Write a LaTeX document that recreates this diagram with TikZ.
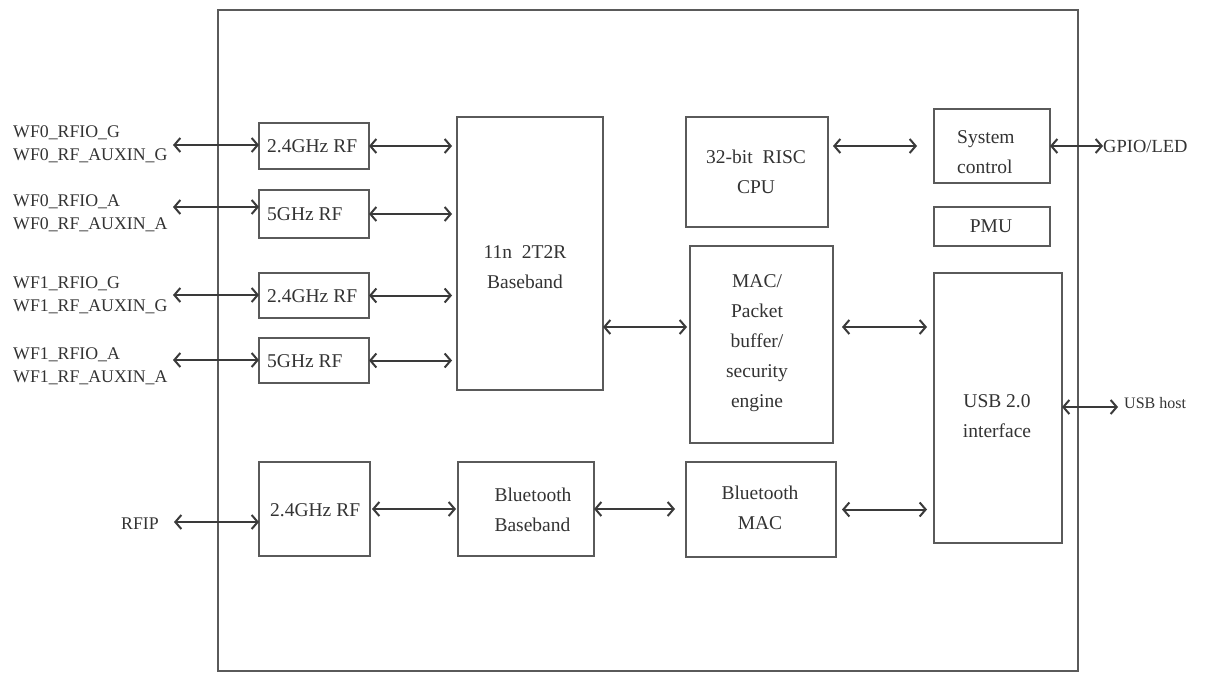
\documentclass[tikz,border=0pt]{standalone}
\usepackage{fontspec}
\setmainfont{Liberation Serif}
\usetikzlibrary{arrows.meta}
\definecolor{boxc}{HTML}{5A5A5A}
\definecolor{arrc}{HTML}{3A3A3A}
\definecolor{txtc}{HTML}{333333}
\begin{document}
\begin{tikzpicture}[x=1pt,y=-1pt,
  blk/.style={draw=boxc, line width=2.2pt, inner sep=0pt, outer sep=0pt, anchor=north west},
  arr/.style={draw=arrc, line width=2pt, {Straight Barb[length=6pt,width=14pt]}-{Straight Barb[length=6pt,width=14pt]}},
  btxt/.style={text=txtc, inner sep=0pt, align=center, font=\fontsize{19.5}{30}\selectfont},
  ltxt/.style={text=txtc, inner sep=0pt, align=left, font=\fontsize{17.8}{23}\selectfont}]
\useasboundingbox[fill=white] (0,0) rectangle (1209,680);
% outer chip border
\draw[draw=boxc, line width=2pt] (218,10) rectangle (1078,671);
% blocks
\node[blk, minimum width=110pt, minimum height=46pt] (rf1) at (259,123) {};
\node[blk, minimum width=110pt, minimum height=48pt] (rf2) at (259,190) {};
\node[blk, minimum width=110pt, minimum height=45pt] (rf3) at (259,273) {};
\node[blk, minimum width=110pt, minimum height=45pt] (rf4) at (259,338) {};
\node[blk, minimum width=146pt, minimum height=273pt] (bb) at (457,117) {};
\node[blk, minimum width=142pt, minimum height=110pt] (cpu) at (686,117) {};
\node[blk, minimum width=116pt, minimum height=74pt] (sys) at (934,109) {};
\node[blk, minimum width=116pt, minimum height=39pt] (pmu) at (934,207) {};
\node[blk, minimum width=143pt, minimum height=197pt] (mac) at (690,246) {};
\node[blk, minimum width=128pt, minimum height=270pt] (usb) at (934,273) {};
\node[blk, minimum width=111pt, minimum height=94pt] (btrf) at (259,462) {};
\node[blk, minimum width=136pt, minimum height=94pt] (btbb) at (458,462) {};
\node[blk, minimum width=150pt, minimum height=95pt] (btmac) at (686,462) {};
% block texts
\node[btxt, anchor=west] at (267,146) {2.4GHz RF};
\node[btxt, anchor=west] at (267,214) {5GHz RF};
\node[btxt, anchor=west] at (267,296) {2.4GHz RF};
\node[btxt, anchor=west] at (267,361) {5GHz RF};
\node[btxt] at (525,267) {11n\ \ 2T2R\\Baseband};
\node[btxt] at (756,172) {32-bit\ \ RISC\\CPU};
\node[btxt, align=left, anchor=west] at (957,152) {System\\control};
\node[btxt] at (991,226) {PMU};
\node[btxt] at (757,343) {MAC/\\Packet\\buffer/\\security\\engine};
\node[btxt] at (997,416) {USB 2.0\\interface};
\node[btxt, anchor=west] at (270,510) {2.4GHz RF};
\node[btxt, align=left] at (533,510) {Bluetooth\\Baseband};
\node[btxt] at (760,508) {Bluetooth\\MAC};
% external labels
\node[ltxt, anchor=west] (l1) at (13,144) {WF0\_RFIO\_G\\WF0\_RF\_AUXIN\_G};
\node[ltxt, anchor=west] (l2) at (13,213) {WF0\_RFIO\_A\\WF0\_RF\_AUXIN\_A};
\node[ltxt, anchor=west] (l3) at (13,295) {WF1\_RFIO\_G\\WF1\_RF\_AUXIN\_G};
\node[ltxt, anchor=west] (l4) at (13,366) {WF1\_RFIO\_A\\WF1\_RF\_AUXIN\_A};
\node[ltxt] (rfip) at (140,524) {RFIP};
\node[ltxt, anchor=west, font=\fontsize{18.5}{23}\selectfont] (gpio) at (1103,146) {GPIO/LED};
\node[ltxt, anchor=west, font=\fontsize{16}{20}\selectfont] (host) at (1124,403) {USB host};
% free ends
\coordinate (p1) at (173,145);
\coordinate (p2) at (173,207);
\coordinate (p3) at (173,295);
\coordinate (p4) at (173,360);
\coordinate (p5) at (174,522);
\coordinate (m1) at (640,327);
\coordinate (uh) at (1118,407);
% connectors
\draw[arr] (p1) -- (p1 -| rf1.west);
\draw[arr] (p2) -- (p2 -| rf2.west);
\draw[arr] (p3) -- (p3 -| rf3.west);
\draw[arr] (p4) -- (p4 -| rf4.west);
\draw[arr, shorten >=5pt] (rf1.east) -- (rf1.east -| bb.west);
\draw[arr, shorten >=5pt] (rf2.east) -- (rf2.east -| bb.west);
\draw[arr, shorten >=5pt] (rf3.east) -- (rf3.east -| bb.west);
\draw[arr, shorten >=5pt] (rf4.east) -- (rf4.east -| bb.west);
\draw[arr, shorten >=3pt] (m1 -| bb.east) -- (m1 -| mac.west);
\draw[arr, shorten <=5pt, shorten >=17pt] (sys.west -| cpu.east) -- (sys.west);
\draw[arr, shorten <=9pt, shorten >=7pt] (m1 -| mac.east) -- (m1 -| usb.west);
\draw[arr, shorten <=6pt, shorten >=7pt] (btmac.east) -- (btmac.east -| usb.west);
\draw[arr] (sys.east) -- (gpio.west);
\draw[arr] (uh -| usb.east) -- (uh);
\draw[arr, shorten <=2pt, shorten >=2pt] (btrf.east) -- (btrf.east -| btbb.west);
\draw[arr, shorten >=11pt] (btbb.east) -- (btbb.east -| btmac.west);
\draw[arr] (p5) -- (p5 -| btrf.west);
\end{tikzpicture}
\end{document}
